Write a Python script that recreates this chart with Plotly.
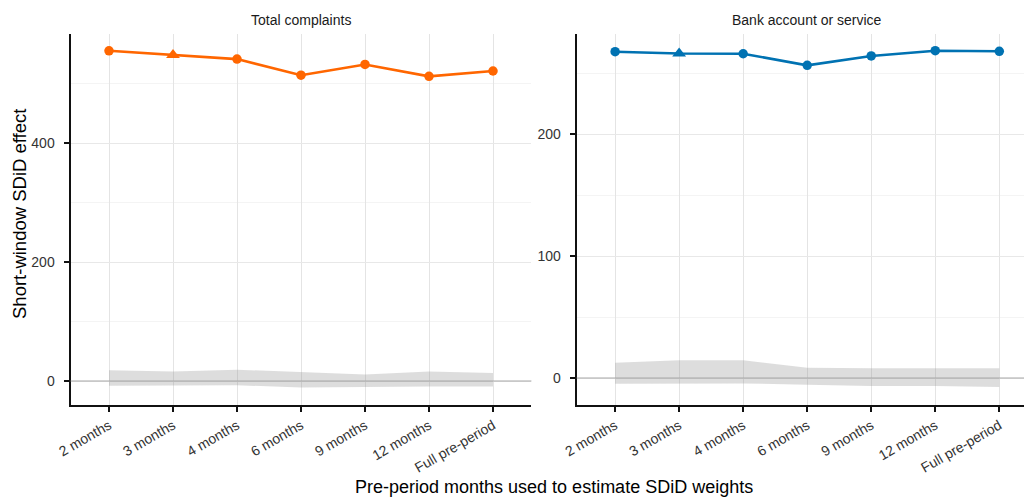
import plotly.graph_objects as go

# ---- data ----
windows = ["2 months", "3 months", "4 months", "6 months", "9 months", "12 months", "Full pre-period"]
symbols = ["circle", "triangle-up", "circle", "circle", "circle", "circle", "circle"]

total_est = [555, 548, 541, 514, 532, 512, 521]
total_lo = [-8, -7, -7, -11, -9.5, -9, -9]
total_hi = [18, 16, 19, 15, 11, 16, 13.5]

bank_est = [267.5, 266, 265.8, 256.3, 264, 268.3, 267.8]
bank_lo = [-4.6, -4.4, -4.4, -5.5, -6.6, -6.6, -7.4]
bank_hi = [12.6, 14.5, 14.5, 8.5, 8, 8, 8]

panel_titles = ["Total complaints", "Bank account or service"]
colors = ["#FF6600", "#0072B2"]

W, H = 1024, 497
FONT = "Liberation Sans, Arial, Helvetica, sans-serif"
marker_sizes = [12 if s.startswith("triangle") else 9.5 for s in symbols]

fig = go.Figure()

panels = [
    dict(est=total_est, lo=total_lo, hi=total_hi, xa="x", ya="y"),
    dict(est=bank_est, lo=bank_lo, hi=bank_hi, xa="x2", ya="y2"),
]
for p, col in zip(panels, colors):
    fig.add_trace(go.Scatter(x=windows, y=p["lo"], mode="lines", line=dict(width=0),
                             xaxis=p["xa"], yaxis=p["ya"], showlegend=False, hoverinfo="skip"))
    fig.add_trace(go.Scatter(x=windows, y=p["hi"], mode="lines", line=dict(width=0),
                             fill="tonexty", fillcolor="rgba(150,150,150,0.32)",
                             xaxis=p["xa"], yaxis=p["ya"], showlegend=False, hoverinfo="skip"))
    fig.add_trace(go.Scatter(x=windows, y=p["est"], mode="lines+markers",
                             line=dict(color=col, width=2.6),
                             marker=dict(color=col, size=marker_sizes, symbol=symbols,
                                         opacity=1, line=dict(width=0)),
                             xaxis=p["xa"], yaxis=p["ya"], showlegend=False))

# zero reference lines
for xr, yr in [("x domain", "y"), ("x2 domain", "y2")]:
    fig.add_shape(type="line", xref=xr, yref=yr, x0=0, x1=1, y0=0, y1=0,
                  line=dict(color="#A8A8A8", width=1.1), layer="above")

ytop = 1 - 34 / H
ybot = 1 - 405 / H

common_x = dict(type="category", showline=True, linecolor="#111111", linewidth=2.2,
                ticks="outside", ticklen=5, tickwidth=2, tickcolor="#111111",
                showgrid=True, gridcolor="#E4E4E4", gridwidth=1.3, zeroline=False,
                tickangle=-30, tickfont=dict(family=FONT, size=14, color="#333333"),
                automargin=False, fixedrange=True)
common_y = dict(showline=True, linecolor="#111111", linewidth=2.2,
                ticks="outside", ticklen=5, tickwidth=2, tickcolor="#111111",
                showgrid=True, gridcolor="#E8E8E8", gridwidth=1.2, zeroline=False,
                tickfont=dict(family=FONT, size=14, color="#333333"),
                ticklabelstandoff=6, domain=[ybot, ytop], automargin=False, fixedrange=True)

fig.update_layout(
    width=W, height=H,
    margin=dict(l=0, r=0, t=0, b=0),
    paper_bgcolor="white", plot_bgcolor="white",
    font=dict(family=FONT),
    xaxis=dict(common_x, domain=[70.6 / W, 531.4 / W], range=[-0.6, 6.6], anchor="y"),
    xaxis2=dict(common_x, domain=[576.7 / W, 1.0], range=[-0.6, 6.386], anchor="y2"),
    yaxis=dict(common_y, range=[-40.3, 583.2], tick0=0, dtick=200, anchor="x",
               minor=dict(dtick=100, tick0=0, showgrid=True, gridcolor="#F4F4F4", gridwidth=1, ticks="")),
    yaxis2=dict(common_y, range=[-22.1, 282], tick0=0, dtick=100, anchor="x2",
                minor=dict(dtick=50, tick0=0, showgrid=True, gridcolor="#F4F4F4", gridwidth=1, ticks="")),
)

# strip titles
for title, x0, x1 in [(panel_titles[0], 70.6, 531.4), (panel_titles[1], 576.7, 1037.7)]:
    fig.add_annotation(text=title, xref="paper", yref="paper",
                       x=(x0 + x1) / 2 / W, y=1 - 20.5 / H, xanchor="center", yanchor="middle",
                       showarrow=False, font=dict(family=FONT, size=14, color="#1A1A1A"))

# axis titles
fig.add_annotation(text="Pre-period months used to estimate SDiD weights", xref="paper", yref="paper",
                   x=554 / W, y=1 - 487 / H, xanchor="center", yanchor="middle", showarrow=False,
                   font=dict(family=FONT, size=18, color="#000000"))
fig.add_annotation(text="Short-window SDiD effect", xref="paper", yref="paper",
                   x=20 / W, y=1 - 214 / H, xanchor="center", yanchor="middle", textangle=-90,
                   showarrow=False, font=dict(family=FONT, size=18.5, color="#000000"))

fig.write_html("out.html", config={"displayModeBar": False},
               post_script="document.body.style.margin='0';document.body.style.overflow='hidden';")
